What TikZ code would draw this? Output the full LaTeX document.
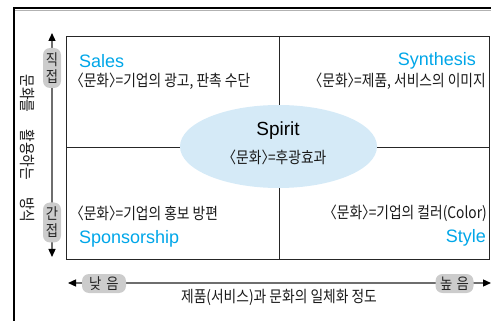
\documentclass[tikz,border=0pt]{standalone}
\usepackage{fontspec}
\setmainfont{Liberation Sans}
\newfontfamily\kr[FakeStretch=0.86]{Noto Sans CJK KR}
\usetikzlibrary{arrows.meta,shapes.geometric}
\definecolor{cyantext}{RGB}{0,166,232}
\definecolor{ellfill}{RGB}{213,234,247}
\definecolor{pillgray}{RGB}{204,204,204}
\definecolor{axisgray}{RGB}{110,110,110}
\newcommand\opn{\kern-0.45em〈}
\newcommand\cls{〉\kern-0.45em}
\tikzset{
  krtext/.style={inner sep=0pt, font=\kr\fontsize{16}{18}\selectfont, text=black!90},
  entext/.style={inner sep=0pt, font=\fontsize{18}{20}\selectfont, text=cyantext},
  pill/.style={fill=pillgray, rounded corners=7pt, inner sep=0pt, font=\kr\fontsize{15.5}{16}\selectfont, text=black!85},
  axis/.style={draw=axisgray, line width=1.3pt, {Triangle[length=8pt,width=7pt,color=black]}-{Triangle[length=8pt,width=7pt,color=black]}},
}
\begin{document}
\begin{tikzpicture}[x=1pt,y=-1pt]
\useasboundingbox (0,0) rectangle (491,321);
% outer frame
\draw[line width=1.2pt] (14,321) -- (14,8) -- (491,8);
\draw[black!30, line width=0.8pt] (15,10.5) -- (491,10.5);
% inner box
\draw[line width=0.8pt, black!85] (66,36) rectangle (489,259);
\draw[line width=0.8pt, black!85] (279,36) -- (279,259);
\draw[line width=0.8pt, black!85] (66,147) -- (489,147);
% ellipse
\node[ellipse, fill=ellfill, minimum width=197pt, minimum height=83pt, inner sep=0pt] (ell) at (278.5,146.5) {};
\node[inner sep=0pt, font=\fontsize{19}{21}\selectfont] (spirit) at (278,131) {Spirit};
\node[krtext] (spiritsub) at (278,157) {\opn 문화\cls=후광효과};
% quadrants
\node[entext, anchor=west] (sales) at (79,61) {Sales};
\node[krtext, anchor=west] (salessub) at (77,81) {\opn 문화\cls=기업의 광고, 판촉 수단};
\node[entext, anchor=east] (synth) at (476,61) {Synthesis};
\node[krtext, anchor=east] (synthsub) at (486,81) {\opn 문화\cls=제품, 서비스의 이미지};
\node[krtext, anchor=west] (sponsub) at (77,213) {\opn 문화\cls=기업의 홍보 방편};
\node[entext, anchor=west] (spons) at (79,239) {Sponsorship};
\node[krtext, anchor=east] (stylesub) at (487,213) {\opn 문화\cls=기업의 컬러(Color)};
\node[entext, anchor=east] (style) at (486,238) {Style};
% vertical axis
\coordinate (vtop) at (52,33);
\coordinate (vbot) at (52,257);
\draw[axis] (vbot) -- (vtop);
\node[pill, minimum width=18pt, minimum height=40pt, align=center] (direct) at (52,68) {직\\[1pt]접};
\node[pill, minimum width=18pt, minimum height=40pt, align=center] (indirect) at (52,222.5) {간\\[1pt]접};
\node[krtext, rotate=-90] (vlabel) at (28,148.5) {문화를\hspace{17pt}활용하는\hspace{17pt}방식};
% horizontal axis
\coordinate (hleft) at (68,283);
\coordinate (hright) at (491,283);
\draw[axis] (hleft) -- (hright);
\node[pill, minimum width=44pt, minimum height=19pt] (low) at (104,283.5) {낮\hspace{5pt}음};
\node[pill, minimum width=38pt, minimum height=19pt] (high) at (454.5,283.5) {높\hspace{4pt}음};
\node[krtext] (hlabel) at (279,297) {제품(서비스)과 문화의 일체화 정도};
\end{tikzpicture}
\end{document}
